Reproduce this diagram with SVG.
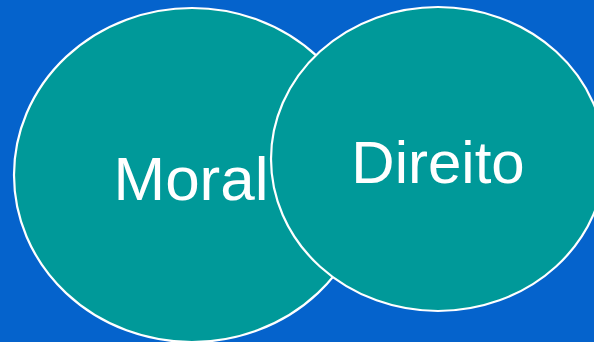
<svg xmlns="http://www.w3.org/2000/svg" width="594" height="342" viewBox="0 0 594 342">
  <style>
    .set { fill: #009999; stroke: #ffffff; stroke-width: 2.2; }
    .lbl { fill: #ffffff; font-family: "Liberation Sans", Arial, sans-serif; text-anchor: middle; }
  </style>
  <rect x="0" y="0" width="594" height="342" fill="#0563CC"/>
  <g id="moral">
    <ellipse class="set" cx="192" cy="175" rx="178" ry="167"/>
    <text class="lbl" x="191" y="200" font-size="62">Moral</text>
  </g>
  <g id="direito">
    <ellipse class="set" cx="438" cy="159" rx="167" ry="152"/>
    <text class="lbl" x="438" y="183" font-size="60">Direito</text>
  </g>
  <g id="connectors"></g>
</svg>
